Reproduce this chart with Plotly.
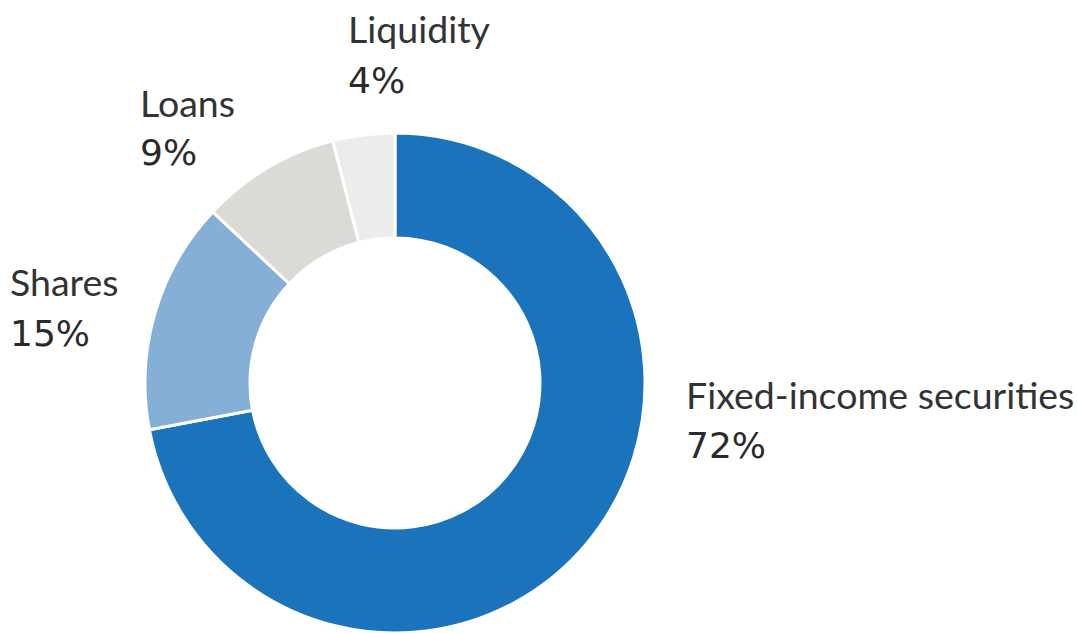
import plotly.graph_objects as go

categories = ["Fixed-income securities", "Shares", "Loans", "Liquidity"]
values = [72, 15, 9, 4]
colors = ["#1b74bb", "#85afd7", "#dbdad5", "#ececea"]

W, H = 1077, 633
# label anchor positions in pixels (left x, name centre y)
label_pos = {
    "Fixed-income securities": (684, 394),
    "Shares": (8, 282),
    "Loans": (138, 102),
    "Liquidity": (346, 29),
}

fig = go.Figure(go.Pie(
    labels=categories,
    values=values,
    marker=dict(colors=colors, line=dict(color="white", width=3)),
    hole=0.58,
    sort=False,
    direction="clockwise",
    rotation=0,
    textinfo="none",
    hoverinfo="label+percent",
    showlegend=False,
    domain=dict(x=[(395 - 250) / W, (395 + 250) / W], y=[0, 500 / H]),
))

annotations = []
for cat, v in zip(categories, values):
    px, py = label_pos[cat]
    annotations.append(dict(
        x=px / W, y=1 - py / H, xref="paper", yref="paper",
        xanchor="left", yanchor="middle", showarrow=False,
        text=cat,
        font=dict(family="Lato", size=37.5, color="#333333"),
    ))
    annotations.append(dict(
        x=px / W, y=1 - (py + 51) / H, xref="paper", yref="paper",
        xanchor="left", yanchor="middle", showarrow=False,
        text=f"{v}%",
        font=dict(family="DejaVu Sans", size=36, color="#2a2a2a"),
    ))

fig.update_layout(
    width=W, height=H,
    margin=dict(l=0, r=0, t=0, b=0),
    paper_bgcolor="white",
    plot_bgcolor="white",
    annotations=annotations,
)

fig.write_html("out.html", config={"displayModeBar": False},
               post_script="document.body.style.margin='0';")
